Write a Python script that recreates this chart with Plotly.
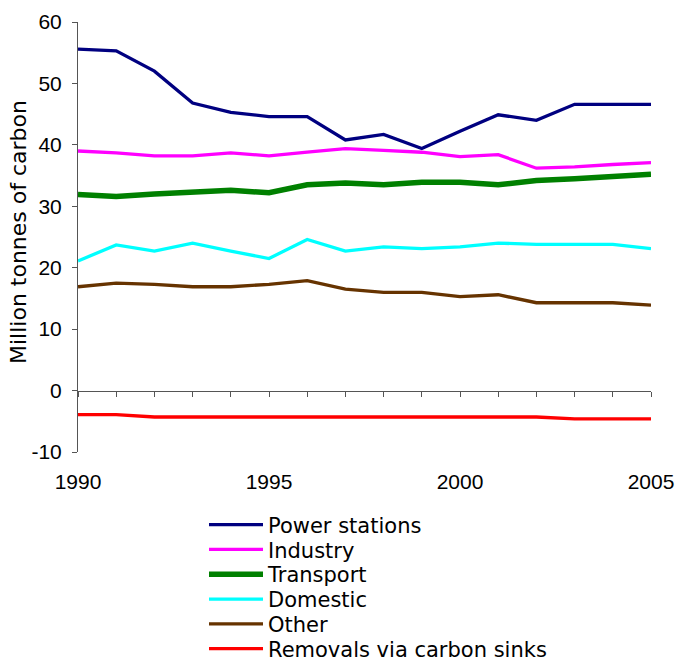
import plotly.graph_objects as go

years = list(range(1990, 2006))

power_stations = [55.6, 55.3, 52.0, 46.8, 45.3, 44.6, 44.6, 40.8, 41.7, 39.4, 42.2, 44.9, 44.0, 46.6, 46.6, 46.6]
industry = [39.0, 38.7, 38.2, 38.2, 38.7, 38.2, 38.8, 39.4, 39.1, 38.8, 38.1, 38.4, 36.2, 36.4, 36.8, 37.1]
transport = [31.9, 31.6, 32.0, 32.3, 32.6, 32.2, 33.5, 33.8, 33.5, 33.9, 33.9, 33.5, 34.2, 34.5, 34.8, 35.2]
domestic = [21.1, 23.7, 22.7, 24.0, 22.7, 21.5, 24.6, 22.7, 23.4, 23.1, 23.4, 24.0, 23.8, 23.8, 23.8, 23.1]
other = [16.9, 17.5, 17.3, 16.9, 16.9, 17.3, 17.9, 16.5, 16.0, 16.0, 15.3, 15.6, 14.3, 14.3, 14.3, 13.9]
sinks = [-3.9, -3.9, -4.3, -4.3, -4.3, -4.3, -4.3, -4.3, -4.3, -4.3, -4.3, -4.3, -4.3, -4.6, -4.6, -4.6]

series_names = ["Power stations", "Industry", "Transport", "Domestic", "Other", "Removals via carbon sinks"]
series_values = [power_stations, industry, transport, domestic, other, sinks]
series_colors = ["#000080", "#FF00FF", "#008000", "#00FFFF", "#663300", "#FF0000"]
series_widths = [3.3, 3.3, 5.5, 3.3, 3.3, 3.3]

x_tick_labels = ["1990", "1995", "2000", "2005"]
x_tick_vals = [1990, 1995, 2000, 2005]
y_tick_vals = [-10, 0, 10, 20, 30, 40, 50, 60]
y_tick_labels = ["-10", "0", "10", "20", "30", "40", "50", "60"]
y_title = "Million tonnes of carbon"

W, H = 676, 662
L, R, T = 78, 25, 22
plot_bottom = 452
B = H - plot_bottom
plot_w = W - L - R
plot_h = H - T - B

fig = go.Figure()
legend_names = ["legend"] + [f"legend{i}" for i in range(2, 7)]
for name, vals, col, wd, lg in zip(series_names, series_values, series_colors, series_widths, legend_names):
    fig.add_trace(go.Scatter(x=years, y=vals, mode="lines", name=name,
                             line=dict(color=col, width=wd), legend=lg))

# hidden trace to host the zero-line x axis
fig.add_trace(go.Scatter(x=[years[0]], y=[None], xaxis="x2", showlegend=False,
                         hoverinfo="skip", mode="lines"))

legend_font = dict(family="DejaVu Sans", size=21, color="#000000")
first_center_px = 525.0
step_px = 24.8
legend_left_px = 204
layout_legends = {}
for i, lg in enumerate(legend_names):
    cy = first_center_px + i * step_px
    layout_legends[lg] = dict(
        x=(legend_left_px - L) / plot_w,
        y=(T + plot_h - cy) / plot_h,
        xanchor="left", yanchor="middle",
        font=legend_font, bgcolor="rgba(0,0,0,0)",
        borderwidth=0, itemwidth=54, tracegroupgap=0,
    )

tick_font = dict(family="Liberation Sans", size=21, color="#000000")
axis_col = "#555555"
fig.update_layout(
    width=W, height=H,
    margin=dict(l=L, r=R, t=T, b=B, pad=0, autoexpand=False),
    paper_bgcolor="white", plot_bgcolor="white",
    font=dict(family="Liberation Sans", size=21, color="#000000"),
    xaxis=dict(range=[1990, 2005], tickvals=x_tick_vals, ticktext=x_tick_labels,
               showline=False, ticks="", showgrid=False, zeroline=False, automargin=False,
               tickfont=tick_font, ticklabelstandoff=15),
    xaxis2=dict(range=[1990, 2005], overlaying="x", anchor="free", position=10 / 70,
                tickvals=years, ticks="outside", ticklen=5, tickcolor=axis_col,
                showticklabels=False, showline=True, linecolor=axis_col, linewidth=1,
                showgrid=False, zeroline=False, side="bottom", automargin=False),
    yaxis=dict(range=[-10, 60], tickvals=y_tick_vals, ticktext=y_tick_labels,
               ticks="outside", ticklen=5, tickcolor=axis_col,
               showline=True, linecolor=axis_col, linewidth=1, showgrid=False, zeroline=False,
               automargin=False, tickfont=tick_font, ticklabelstandoff=6),
    annotations=[dict(text=y_title, textangle=-90, xref="paper", yref="paper",
                      x=0, y=(plot_bottom - 232) / plot_h, xanchor="center", yanchor="middle",
                      xshift=18 - L, showarrow=False,
                      font=dict(family="DejaVu Sans", size=22, color="#000000"))],
    **layout_legends,
)

fig.write_html(
    "out.html",
    config={"displayModeBar": False},
    post_script="document.body.style.margin='0';document.body.style.overflow='hidden';",
)
